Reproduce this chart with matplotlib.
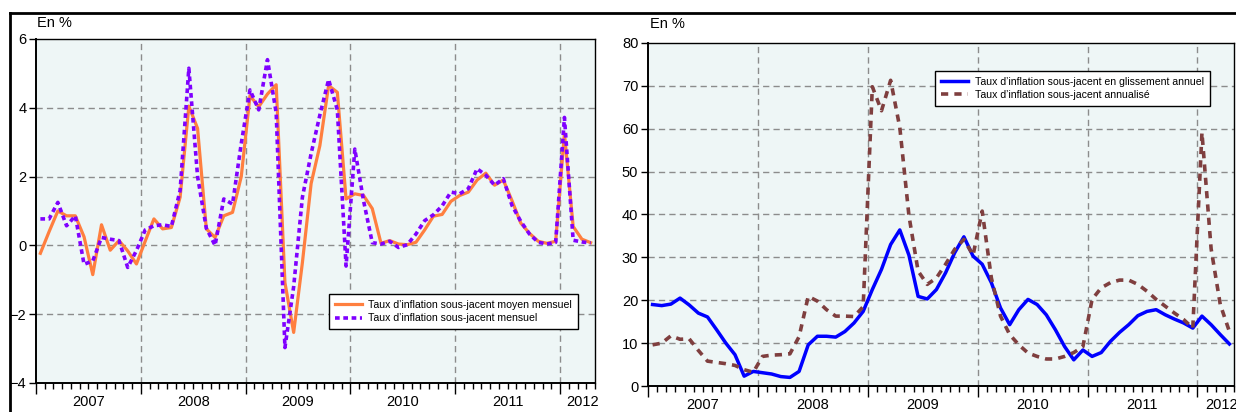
import matplotlib
matplotlib.use('Agg')
import matplotlib.pyplot as plt
from matplotlib.lines import Line2D
import matplotlib.transforms as mtransforms
import numpy as np

plt.rcParams['font.family'] = ['Liberation Sans', 'DejaVu Sans']

# mois de janvier 2007 a avril 2012 (64 observations)
annees = ['2007', '2008', '2009', '2010', '2011', '2012']

moyen_mensuel = [-0.23, 0.4, 1.0, 0.86, 0.86, 0.25, -0.85, 0.6, -0.14, 0.14, -0.16, -0.54,
                 0.12, 0.77, 0.48, 0.52, 1.4, 4.05, 3.4, 0.48, 0.23, 0.86, 0.96, 2.0,
                 4.35, 4.03, 4.4, 4.67, -1.08, -2.53, -0.5, 1.8, 2.9, 4.65, 4.45, 1.35,
                 1.5, 1.45, 1.07, 0.06, 0.14, 0.04, 0.02, 0.09, 0.45, 0.85, 0.9, 1.28,
                 1.45, 1.55, 1.9, 2.1, 1.75, 1.9, 1.3, 0.65, 0.35, 0.12, 0.06, 0.12,
                 3.25, 0.55, 0.18, 0.08]

mensuel = [0.77, 0.77, 1.25, 0.57, 0.86, -0.55, -0.45, 0.23, 0.18, 0.14, -0.64, -0.15,
           0.45, 0.57, 0.6, 0.55, 1.6, 5.15, 2.0, 0.5, 0.0, 1.35, 1.2, 2.96,
           4.52, 3.94, 5.4, 3.85, -2.97, -1.2, 1.4, 2.67, 3.79, 4.82, 3.94, -0.6,
           2.8, 1.3, 0.08, 0.04, 0.12, -0.06, 0.02, 0.33, 0.72, 0.89, 1.15, 1.55,
           1.5, 1.65, 2.23, 2.04, 1.75, 1.94, 1.16, 0.7, 0.33, 0.09, 0.04, 0.09,
           3.72, 0.15, 0.1, 0.07]

glissement_annuel = [19.0, 18.75, 19.1, 20.5, 18.9, 17.0, 16.1, 13.1, 10.0, 7.3, 2.3, 3.4,
                     3.1, 2.8, 2.2, 2.0, 3.4, 9.6, 11.6, 11.6, 11.4, 12.7, 14.7, 17.4,
                     22.5, 27.2, 33.0, 36.4, 30.5, 20.9, 20.3, 22.5, 26.4, 31.1, 34.8, 30.3,
                     28.4, 24.1, 18.2, 14.3, 17.8, 20.2, 19.0, 16.6, 13.1, 9.2, 6.1, 8.4,
                     6.9, 7.8, 10.4, 12.5, 14.3, 16.4, 17.4, 17.8, 16.6, 15.6, 14.7, 13.5,
                     16.3, 14.3, 12.0, 9.8]

annualise = [9.6, 10.0, 11.7, 10.9, 11.0, 8.3, 5.8, 5.5, 5.2, 4.8, 3.8, 3.2,
             6.9, 7.2, 7.3, 7.5, 11.5, 20.9, 19.8, 17.8, 16.3, 16.3, 16.2, 18.5,
             69.8, 64.2, 71.3, 60.3, 39.7, 26.8, 23.7, 25.2, 28.4, 31.9, 34.2, 30.5,
             40.8, 25.2, 16.3, 12.0, 9.6, 7.7, 6.9, 6.3, 6.3, 6.9, 7.8, 9.2,
             20.2, 22.9, 24.1, 24.7, 24.7, 23.7, 22.1, 20.2, 18.6, 17.0, 15.5, 13.5,
             59.1, 32.0, 19.0, 12.7]

x = np.arange(len(moyen_mensuel)) + 0.5  # milieu du mois
fond = '#eef6f6'
grille = '#8c8c8c'


def habiller(ax, ymin, ymax, ypas):
    """axes, grille et etiquettes des annees"""
    ax.set_facecolor(fond)
    ax.set_xlim(0, 64)
    ax.set_ylim(ymin, ymax)
    ax.set_yticks(np.arange(ymin, ymax + ypas / 2, ypas))
    ax.set_xticks(np.arange(0, 64, 12))
    ax.set_xticks(np.arange(0, 65, 1), minor=True)
    ax.set_xticklabels([])
    ax.tick_params(axis='x', which='major', length=8, width=1, direction='out')
    ax.tick_params(axis='x', which='minor', length=4, width=1, direction='out')
    ax.tick_params(axis='y', length=5, width=1, labelsize=10.5, pad=2)
    for s in ax.spines.values():
        s.set_linewidth(1.0)
    ax.spines['left'].set_linewidth(1.4)
    ax.spines['bottom'].set_linewidth(1.4)
    # grille en tirets
    for v in np.arange(ymin + ypas, ymax, ypas):
        ax.axhline(v, color=grille, lw=1, ls=(0, (4.5, 3)), zorder=1)
    for m in range(12, 64, 12):
        ax.axvline(m, color=grille, lw=1, ls=(0, (4.5, 3)), zorder=1)
    trans = mtransforms.blended_transform_factory(ax.transData, ax.transAxes)
    for k, a in enumerate(annees):
        pos = 12 * k + 6 if k < 5 else 62.6
        ax.text(pos, -0.035, a, transform=trans, ha='center', va='top', fontsize=10.5)


fig = plt.figure(figsize=(12.36, 4.12), dpi=100)

# graphique de gauche
ax1 = fig.add_axes([36 / 1236, 29 / 412, 559 / 1236, 344 / 412])
habiller(ax1, -4, 6, 2)
ax1.plot(x, moyen_mensuel, color='#ff7f3f', lw=2.3, zorder=3,
         label='Taux d\u2019inflation sous-jacent moyen mensuel')
ax1.plot(x, mensuel, color='#7f00ff', lw=2.6, ls=(0, (1.3, 1.0)), zorder=4,
         label='Taux d\u2019inflation sous-jacent mensuel')
leg1 = ax1.legend(loc='upper left', bbox_to_anchor=(0.524, 0.258), borderaxespad=0,
                  fancybox=False, framealpha=1, edgecolor='black', fontsize=7.6,
                  handlelength=2.6, handletextpad=0.6, labelspacing=0.3, borderpad=0.55)
leg1.get_frame().set_linewidth(1.0)
fig.text(37 / 1236, 1 - 23 / 412, 'En %', fontsize=10.5, va='center', ha='left')

# graphique de droite
ax2 = fig.add_axes([648 / 1236, 26 / 412, 586 / 1236, 343 / 412])
habiller(ax2, 0, 80, 10)
ax2.plot(x, glissement_annuel, color='#0000ff', lw=2.5, zorder=3,
         label='Taux d\u2019inflation sous-jacent en glissement annuel')
ax2.plot(x, annualise, color='#7f3f3f', lw=2.6, ls=(0, (2.0, 1.7)), zorder=4,
         label='Taux d\u2019inflation sous-jacent annualis\u00e9')
leg2 = ax2.legend(loc='upper left', bbox_to_anchor=(0.49, 0.918), borderaxespad=0,
                  fancybox=False, framealpha=1, edgecolor='black', fontsize=7.6,
                  handlelength=2.6, handletextpad=0.6, labelspacing=0.3, borderpad=0.55)
leg2.get_frame().set_linewidth(1.0)
fig.text(650 / 1236, 1 - 24 / 412, 'En %', fontsize=10.5, va='center', ha='left')

# cadre du tableau (trait noir en haut et a gauche)
fig.add_artist(Line2D([10 / 1236, 10 / 1236], [0, 1 - 13 / 412], transform=fig.transFigure,
                      color='black', lw=2))
fig.add_artist(Line2D([10 / 1236, 1], [1 - 13 / 412, 1 - 13 / 412], transform=fig.transFigure,
                      color='black', lw=2))

fig.savefig('out.png', dpi=100)
plt.close(fig)
